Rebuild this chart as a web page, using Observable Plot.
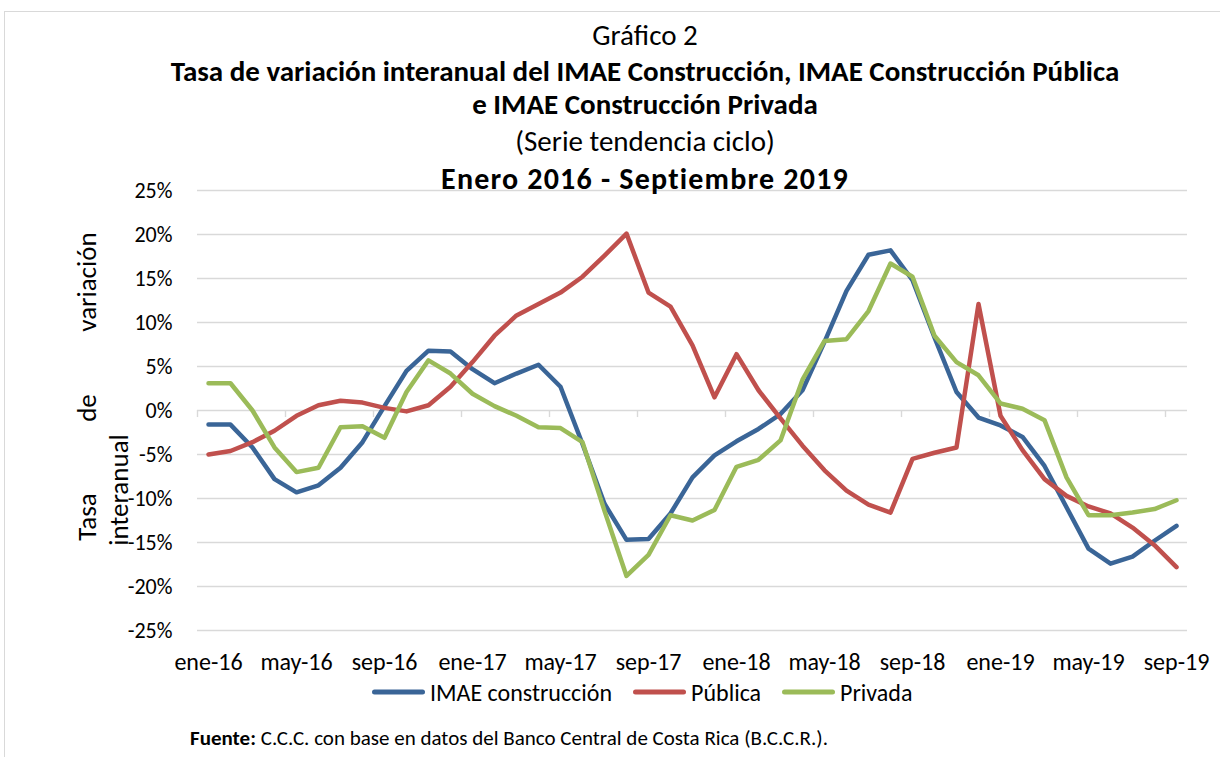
<!DOCTYPE html>
<html><head><meta charset="utf-8">
<script src="https://cdn.jsdelivr.net/npm/d3@7"></script>
<script src="https://cdn.jsdelivr.net/npm/@observablehq/plot@0.6"></script>
<style>
body{margin:0;background:#fff;}
#wrap{position:relative;width:1220px;height:757px;overflow:hidden;font-family:Carlito,Lato,"Open Sans",sans-serif;color:#000}
#frame{position:absolute;left:4px;top:11px;width:1300px;height:900px;border-top:1px solid #d9d9d9;border-left:1px solid #d9d9d9}
.c{position:absolute;left:645px;transform:translate(-50%,-50%);white-space:nowrap;font-size:29px}
.ytl{position:absolute;white-space:nowrap;font-size:27px;transform:translate(-50%,-50%) rotate(-90deg);}
#chart{position:absolute;left:0;top:0}
#legend{position:absolute;left:372px;top:692px;transform:translateY(-50%);display:flex;align-items:center;font-size:24px;white-space:nowrap}
#legend .sw{display:inline-block;width:53px;height:5px;border-radius:3px;margin-right:5px}
#legend .it{display:flex;align-items:center;margin-right:21px}
#src{position:absolute;left:190px;top:738px;transform:translateY(-50%);font-size:21px;white-space:nowrap}
</style></head>
<body><div id="wrap">
<div id="frame"></div>
<div id="chart"></div>
<div class="c" style="top:35px">Gráfico 2</div>
<div class="c" style="top:71px;font-weight:bold">Tasa de variación interanual del IMAE Construcción, IMAE Construcción Pública</div>
<div class="c" style="top:104px;font-weight:bold">e IMAE Construcción Privada</div>
<div class="c" style="top:141px">(Serie tendencia ciclo)</div>
<div class="c" style="top:178px;font-weight:bold;font-size:30px;letter-spacing:1.2px">Enero 2016 - Septiembre 2019</div>
<div class="ytl" style="left:86px;top:282px">variación</div>
<div class="ytl" style="left:86px;top:408px">de</div>
<div class="ytl" style="left:86px;top:517px">Tasa</div>
<div class="ytl" style="left:118px;top:490px">interanual</div>
<div id="legend"></div>
<div id="src"><b>Fuente:</b> C.C.C. con base en datos del Banco Central de Costa Rica (B.C.C.R.).</div>
</div>
<script>
const monthNames = ["ene","feb","mar","abr","may","jun","jul","ago","sep","oct","nov","dic"];
const months = [];
for (let y = 16; y <= 19; y++) for (const m of monthNames) months.push(m + "-" + y);
months.length = 45; // ene-16 .. sep-19
const labelMonths = ["ene-16","may-16","sep-16","ene-17","may-17","sep-17","ene-18","may-18","sep-18","ene-19","may-19","sep-19"];
const yTicks = [-25,-20,-15,-10,-5,0,5,10,15,20,25];
const seriesNames = ["IMAE construcción","Pública","Privada"];
const seriesColors = ["#3A6597","#C0504D","#9BBB59"];
const imae = [-1.6,-1.6,-4.2,-7.8,-9.3,-8.5,-6.5,-3.6,0.5,4.5,6.8,6.7,4.7,3.1,4.2,5.2,2.7,-3.8,-10.6,-14.7,-14.6,-11.7,-7.6,-5.1,-3.5,-2.1,-0.4,2.3,7.8,13.6,17.7,18.2,14.8,8.3,2.1,-0.8,-1.7,-3.0,-6.3,-11.0,-15.7,-17.4,-16.6,-14.8,-13.1];
const publica = [-5.0,-4.6,-3.6,-2.3,-0.6,0.6,1.1,0.9,0.3,-0.1,0.6,2.7,5.5,8.5,10.8,12.1,13.4,15.2,17.6,20.1,13.4,11.8,7.4,1.5,6.4,2.3,-0.9,-4.0,-6.8,-9.1,-10.7,-11.6,-5.5,-4.8,-4.2,12.1,-0.6,-4.5,-7.8,-9.7,-10.9,-11.7,-13.3,-15.3,-17.8];
const privada = [3.1,3.1,0.0,-4.2,-7.0,-6.5,-1.9,-1.8,-3.1,2.1,5.7,4.2,1.9,0.5,-0.6,-1.9,-2.0,-3.6,-11.4,-18.8,-16.4,-11.9,-12.5,-11.3,-6.4,-5.6,-3.4,3.5,7.9,8.1,11.3,16.7,15.2,8.5,5.5,4.0,0.8,0.2,-1.1,-7.6,-11.9,-11.9,-11.6,-11.2,-10.2];

const rows = [];
[imae, publica, privada].forEach((arr, s) => arr.forEach((v, i) => rows.push({month: months[i], value: v, serie: seriesNames[s]})));

const font = 'Carlito, Lato, "Open Sans", sans-serif';
const chart = Plot.plot({
  width: 1220, height: 757,
  marginTop: 190, marginBottom: 127, marginLeft: 197, marginRight: 33,
  style: {fontFamily: font, fontSize: "18px", color: "#000", background: "transparent"},
  x: {type: "point", domain: months, padding: 0.5, align: 0.5, axis: null},
  y: {domain: [-25, 25], axis: null},
  color: {domain: seriesNames, range: seriesColors},
  marks: [
    Plot.ruleY(yTicks, {stroke: "#d9d9d9", strokeWidth: 1.4}),
    Plot.ruleX(labelMonths, {x: d => d, y1: 0, y2: -0.8, dx: -11, stroke: "#d9d9d9", strokeWidth: 1.4}),
    Plot.axisY(yTicks, {tickSize: 0, tickPadding: 25, tickFormat: d => d + "%", fontSize: 22, label: null}),
    Plot.axisX(labelMonths, {anchor: "bottom", tickSize: 0, tickPadding: 22, fontSize: 24, label: null}),
    Plot.line(rows, {x: "month", y: "value", z: "serie", stroke: "serie", strokeWidth: 4.5, strokeLinejoin: "round", strokeLinecap: "round"})
  ]
});
document.getElementById("chart").appendChild(chart);

const lg = document.getElementById("legend");
seriesNames.forEach((n, i) => {
  const it = document.createElement("span");
  it.className = "it";
  it.innerHTML = `<span class="sw" style="background:${seriesColors[i]}"></span><span>${n}</span>`;
  lg.appendChild(it);
});
</script>
</body></html>
